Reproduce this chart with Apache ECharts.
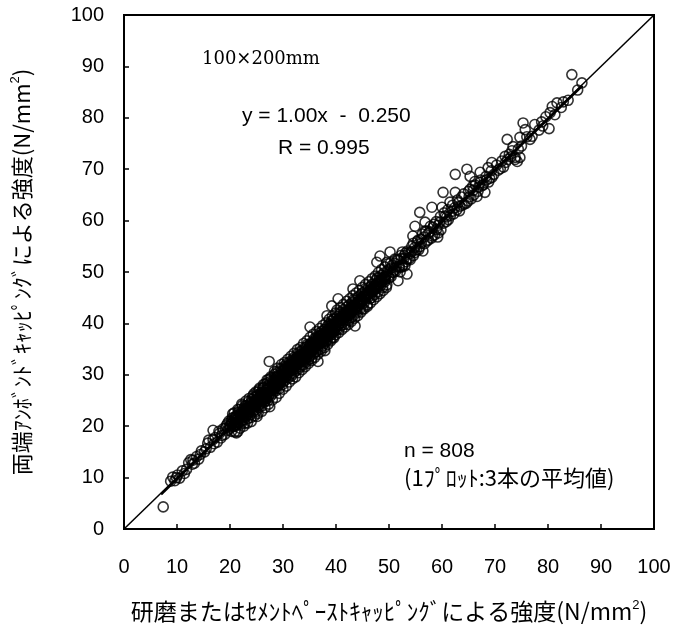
<!DOCTYPE html>
<html>
<head>
<meta charset="utf-8">
<script src="https://cdn.jsdelivr.net/npm/echarts/dist/echarts.min.js"></script>
<style>
html,body{margin:0;padding:0;background:#fff;}
#chart{width:674px;height:628px;}
</style>
</head>
<body>
<div id="chart"></div>
<script>
// ---- data ----
const xTicks = [0,10,20,30,40,50,60,70,80,90,100];
const yTicks = [0,10,20,30,40,50,60,70,80,90,100];
const fitSlope = 1.00;
const fitIntercept = -0.250;
const fitRangeX = [7, 86.5];
const equalLineX = [0, 100];

const pointsLow = [
[7.4,4.3],[8.8,9.3],[9.2,10.1],[9.6,9.4],[10.1,10.5],[10.5,9.9],[11.0,11.3],[11.4,10.8],[12.2,12.9],[12.6,13.5],
[13.0,13.4],[13.3,12.8],[13.7,14.1],[14.1,13.6],[14.6,15.2],[15.2,15.0],[15.8,16.7],[16.3,15.9],[16.8,17.4],[16.8,19.2],
[17.2,17.8],[17.6,16.9],[18.0,18.6],[18.3,17.7],[18.7,19.5],[19.0,18.4],[19.3,20.1],[19.6,19.2],[19.8,21.0],[20.0,19.6],
[9.9,10.0],[11.8,11.6],[12.9,12.6],[14.4,14.5],[15.5,15.6],[16.0,17.3],[17.0,16.6],[17.9,19.0],[18.5,18.2],[19.1,19.6],
[19.5,20.5],[19.9,20.0]
];
const points20s = [
[20.1,20.2],[20.3,19.0],[20.4,21.6],[20.6,19.9],[20.8,22.6],[20.9,18.9],[21.0,21.5],[21.2,20.7],[21.3,22.1],[21.5,19.0],
[21.6,21.8],[21.7,23.2],[21.9,20.8],[22.0,21.9],[22.1,20.4],[22.2,24.3],[22.4,21.6],[22.5,23.1],[22.6,21.2],[22.7,22.6],
[22.8,20.6],[22.9,23.4],[23.0,21.9],[23.1,24.0],[23.2,22.1],[23.3,23.6],[23.4,21.5],[23.5,24.8],[23.6,22.8],[23.7,23.9],
[23.8,22.2],[23.9,24.4],[24.0,21.7],[24.1,25.2],[24.2,23.6],[24.3,24.1],[24.4,22.9],[24.5,26.3],[24.6,23.8],[24.7,25.0],
[24.8,23.2],[24.9,24.6],[25.0,22.9],[25.1,21.9],[25.1,26.0],[25.2,24.7],[25.3,25.9],[25.4,24.0],[25.5,27.1],[25.6,24.3],
[25.7,25.8],[25.8,24.6],[25.9,26.6],[26.0,23.9],[26.1,26.5],[26.2,27.4],[26.3,25.0],[26.4,26.3],[26.5,24.8],[26.6,28.2],
[26.7,25.7],[26.8,27.0],[26.9,25.4],[27.0,27.2],[27.1,24.9],[27.2,27.8],[27.3,29.1],[27.4,32.6],[27.5,23.8],[27.5,26.2],
[27.6,27.6],[27.7,25.9],[27.8,29.4],[27.9,26.8],[28.0,28.3],[28.1,26.4],[28.2,28.9],[28.3,27.0],[28.4,30.1],[28.5,27.5],
[28.6,28.6],[28.7,26.9],[28.8,29.5],[28.9,27.7],[29.0,30.4],[29.1,28.0],[29.2,29.0],[29.3,27.3],[29.4,29.8],[29.5,28.4],
[29.6,31.2],[29.7,28.9],[29.8,29.6],[29.9,28.1],[30.0,30.9],
[20.2,21.0],[20.5,20.6],[20.7,20.1],[21.1,21.9],[21.4,20.3],[21.8,22.4],[22.3,22.0],[22.6,23.5],[23.0,23.0],[23.3,22.4],
[23.7,22.9],[24.0,24.7],[24.3,23.3],[24.6,25.6],[24.9,23.9],[25.2,25.3],[25.5,23.7],[25.8,26.3],[26.1,25.3],[26.4,27.6],
[26.7,24.9],[27.0,26.5],[27.3,26.0],[27.6,28.7],[27.9,27.6],[28.2,27.2],[28.5,29.5],[28.8,28.1],[29.1,29.9],[29.4,28.6],
[29.7,30.6],[29.9,29.5],
[21.0,20.0],[21.6,22.7],[22.2,21.1],[22.8,23.9],[23.4,23.2],[24.0,23.5],[24.6,24.4],[25.2,26.6],[25.8,25.1],[26.4,25.6],
[27.0,28.4],[27.6,26.8],[28.2,28.1],[28.8,30.6],[29.4,29.1],[30.0,28.6],
[20.5,22.4],[20.9,21.8],[21.2,18.7],[21.5,23.3],[21.9,19.6],[22.3,24.0],[22.6,20.0],[23.0,24.9],[23.3,20.6],[23.6,25.4],
[24.0,20.9],[24.3,25.9],[24.6,22.0],[24.9,26.7],[25.3,22.5],[25.6,27.4],[26.0,22.9],[26.3,28.1],[26.6,23.6],[27.0,29.0],
[27.3,24.3],[27.7,29.6],[28.0,25.1],[28.4,30.7],[28.7,25.6],[29.0,31.3],[29.3,26.4],[29.7,32.0],[30.0,27.2],
[20.3,20.5],[20.6,21.2],[20.9,20.3],[21.3,21.4],[21.6,20.9],[21.9,22.0],[22.2,22.5],[22.5,21.9],[22.8,22.8],[23.1,22.6],
[23.4,23.9],[23.7,23.2],[24.1,24.1],[24.4,23.9],[24.7,24.9],[25.0,24.3],[25.3,25.4],[25.6,25.0],[25.9,25.9],[26.2,25.4],
[26.5,26.6],[26.8,26.2],[27.1,27.3],[27.4,26.7],[27.7,27.8],[28.0,27.4],[28.3,28.5],[28.6,27.9],[28.9,29.1],[29.2,28.5],
[29.5,29.6],[29.8,29.0]
];
const points30s = [
[30.1,29.5],[30.2,31.6],[30.3,30.2],[30.4,28.9],[30.5,31.0],[30.6,29.7],[30.7,32.2],[30.8,30.4],[30.9,31.3],[31.0,29.4],
[31.1,31.8],[31.2,30.6],[31.3,32.5],[31.4,30.1],[31.5,31.5],[31.6,29.8],[31.7,32.9],[31.8,31.0],[31.9,32.0],[32.0,30.3],
[32.1,33.4],[32.2,31.6],[32.3,32.4],[32.4,30.7],[32.5,33.0],[32.6,31.9],[32.7,34.1],[32.8,32.2],[32.9,31.1],[33.0,33.6],
[33.1,32.3],[33.2,34.5],[33.3,31.6],[33.4,33.2],[33.5,32.0],[33.6,34.7],[33.7,33.0],[33.8,31.9],[33.9,34.0],[34.0,32.6],
[34.1,35.3],[34.2,33.8],[34.3,32.4],[34.4,34.6],[34.5,33.3],[34.6,35.9],[34.7,34.1],[34.8,32.9],[34.9,35.2],[35.0,33.6],
[35.1,39.3],[35.1,36.0],[35.2,34.4],[35.3,35.5],[35.4,33.2],[35.5,36.4],[35.6,34.9],[35.7,35.8],[35.8,34.0],[35.9,37.0],
[36.0,35.2],[36.1,36.3],[36.2,34.5],[36.3,37.4],[36.4,35.7],[36.5,36.9],[36.6,32.6],[36.6,34.8],[36.7,37.2],[36.8,35.9],
[36.9,38.1],[37.0,36.1],[37.1,35.0],[37.2,37.6],[37.3,36.3],[37.4,38.5],[37.5,35.6],[37.6,37.0],[37.7,36.0],[37.8,38.8],
[37.9,34.7],[37.9,37.3],[38.0,36.4],[38.1,38.3],[38.2,37.1],[38.3,41.5],[38.3,39.4],[38.4,36.8],[38.5,38.7],[38.6,37.5],
[38.7,39.9],[38.8,37.9],[38.9,36.9],[39.0,39.0],[39.1,37.8],[39.2,43.4],[39.2,40.5],[39.3,38.6],[39.4,37.3],[39.5,39.7],
[39.6,38.4],[39.7,40.9],[39.8,39.1],[39.9,37.8],[40.0,40.2],
[30.2,30.9],[30.5,29.6],[30.8,31.7],[31.1,30.5],[31.4,32.1],[31.7,31.4],[32.0,32.6],[32.3,31.1],[32.6,33.3],[32.9,32.7],
[33.2,33.0],[33.5,34.1],[33.8,33.5],[34.1,33.1],[34.4,35.4],[34.7,34.5],[35.0,35.7],[35.3,34.2],[35.6,36.1],[35.9,35.5],
[36.2,36.9],[36.5,35.3],[36.8,37.5],[37.1,36.6],[37.4,37.9],[37.7,37.4],[38.0,38.9],[38.3,37.4],[38.6,38.6],[38.9,39.5],
[39.2,38.2],[39.5,40.8],[39.8,38.8],
[30.4,31.2],[31.0,30.9],[31.6,31.9],[32.2,32.0],[32.8,33.6],[33.4,32.6],[34.0,34.4],[34.6,33.9],[35.2,35.9],[35.8,35.1],
[36.4,36.2],[37.0,37.7],[37.6,36.5],[38.2,38.5],[38.8,38.1],[39.4,39.8],
[30.3,32.4],[30.6,27.8],[30.9,33.0],[31.2,28.6],[31.5,33.6],[31.8,29.2],[32.1,34.2],[32.4,29.6],[32.7,34.9],[33.0,30.4],
[33.3,35.3],[33.6,31.0],[33.9,36.1],[34.2,31.6],[34.5,36.6],[34.8,32.2],[35.1,37.3],[35.4,32.8],[35.7,37.9],[36.0,33.4],
[36.3,38.4],[36.6,34.0],[36.9,39.0],[37.2,34.6],[37.5,39.6],[37.8,35.3],[38.1,40.1],[38.4,35.9],[38.7,40.8],[39.0,36.6],
[39.3,41.4],[39.6,37.2],[39.9,42.0],
[30.1,30.4],[30.4,29.9],[30.7,30.9],[31.0,31.4],[31.3,30.8],[31.6,32.2],[31.9,31.4],[32.2,32.9],[32.5,31.9],[32.8,32.9],
[33.1,33.4],[33.4,33.7],[33.7,33.0],[34.0,34.1],[34.3,33.6],[34.6,34.8],[34.9,34.3],[35.2,35.3],[35.5,34.9],[35.8,36.0],
[36.1,35.5],[36.4,36.7],[36.7,35.9],[37.0,37.0],[37.3,36.8],[37.6,37.9],[37.9,37.2],[38.2,38.3],[38.5,37.8],[38.8,39.0],
[39.1,38.5],[39.4,39.4],[39.7,39.0],[39.9,40.0]
];
const points40s = [
[40.1,38.7],[40.2,41.3],[40.4,44.8],[40.4,39.6],[40.5,40.9],[40.6,38.9],[40.7,41.8],[40.8,40.1],[40.9,42.2],[41.0,39.6],
[41.2,41.6],[41.3,40.2],[41.4,42.7],[41.5,41.0],[41.6,39.8],[41.8,42.1],[41.9,40.7],[42.0,43.2],[42.1,41.3],[42.3,42.4],
[42.4,40.5],[42.5,43.6],[42.6,41.8],[42.8,42.9],[42.9,41.1],[43.0,44.0],[43.2,42.5],[43.2,46.7],[43.3,43.4],[43.4,41.6],
[43.6,39.5],[43.6,44.5],[43.7,42.8],[43.9,43.9],[44.0,42.2],[44.2,45.1],[44.3,43.5],[44.5,48.3],[44.5,44.6],[44.6,42.9],
[44.8,45.7],[44.9,44.1],[45.0,42.8],[45.2,45.3],[45.3,44.0],[45.5,46.3],[45.6,44.7],[45.8,45.4],[45.9,43.6],[46.1,46.9],
[46.2,45.2],[46.4,44.8],[46.5,46.5],[46.7,45.0],[46.8,47.6],[47.0,46.1],[47.1,47.2],[47.3,45.6],[47.5,48.4],[47.7,51.9],
[47.7,46.8],[47.9,47.7],[48.0,46.2],[48.2,49.0],[48.3,53.1],[48.4,47.3],[48.6,48.7],[48.8,47.0],[49.0,49.8],[49.2,48.1],
[49.4,49.2],[49.6,51.9],[49.6,47.5],[49.8,50.3],[50.0,48.8],
[40.3,40.4],[40.9,40.6],[41.5,42.0],[42.1,42.6],[42.7,41.6],[43.3,44.6],[43.9,42.6],[44.5,43.8],[45.1,46.0],[45.7,45.9],
[46.3,46.1],[46.9,46.3],[47.5,47.0],[48.1,48.3],[48.7,49.4],[49.3,48.5],[49.9,49.2],
[40.6,40.8],[41.1,41.2],[41.7,41.5],[42.2,41.9],[42.9,43.4],[43.5,43.0],[44.1,44.2],[44.7,44.3],[45.4,45.0],[46.0,45.6],
[46.6,47.2],[47.2,46.6],[47.8,48.9],[48.5,48.0],[49.1,48.9],
[40.2,42.6],[40.5,38.2],[40.8,43.1],[41.1,38.8],[41.4,43.7],[41.7,39.3],[42.0,44.3],[42.3,39.8],[42.6,44.8],[42.9,40.4],
[43.2,45.4],[43.5,41.0],[43.8,45.9],[44.1,41.5],[44.4,46.4],[44.7,42.2],[45.0,47.0],[45.3,42.8],[45.6,47.6],[45.9,43.3],
[46.2,48.1],[46.5,44.0],[46.8,48.7],[47.1,44.6],[47.4,49.2],[47.7,45.2],[48.0,49.9],[48.3,45.8],[48.6,50.5],[48.9,46.4],
[49.2,51.0],[49.5,47.0],[49.8,51.6],
[40.2,39.8],[40.5,40.4],[40.8,41.0],[41.1,40.6],[41.4,41.4],[41.7,41.0],[42.0,42.0],[42.3,41.7],[42.6,42.6],[42.9,42.3],
[43.2,43.1],[43.5,43.6],[43.8,43.2],[44.1,44.0],[44.4,43.9],[44.7,44.9],[45.0,44.5],[45.3,45.3],[45.6,45.1],[45.9,45.9],
[46.2,45.7],[46.5,46.6],[46.8,46.2],[47.1,47.0],[47.4,46.8],[47.7,47.8],[48.0,47.5],[48.3,48.2],[48.6,47.9],[48.9,48.8],
[49.2,48.6],[49.5,49.5]
];
const points50s = [
[50.2,53.9],[50.2,50.6],[50.4,49.1],[50.6,51.3],[50.8,49.9],[51.1,52.5],[51.1,50.4],[51.4,51.0],[51.7,48.3],[51.7,52.3],
[52.0,50.9],[52.1,50.0],[52.3,52.6],[52.5,53.9],[52.6,51.3],[52.9,53.2],[53.0,51.2],[53.2,52.0],[53.4,49.6],[53.5,54.1],
[53.8,52.6],[54.0,53.6],[54.3,55.0],[54.5,57.0],[54.6,53.2],[54.9,58.9],[54.9,54.8],[55.2,54.3],[55.5,56.2],[55.8,61.6],
[55.8,54.9],[56.1,55.6],[56.4,54.1],[56.6,56.8],[56.8,58.0],[56.8,59.7],[57.1,56.0],[57.4,57.5],[57.7,57.8],[58.0,56.6],
[58.1,62.6],[58.3,58.7],[58.6,57.2],[59.0,58.3],[59.2,56.8],[59.3,59.1],[59.6,59.7],[59.8,58.2],
[50.3,51.8],[50.7,50.0],[51.0,51.7],[51.3,50.2],[51.6,52.4],[51.9,51.1],[52.2,53.2],[52.5,51.0],[52.8,52.6],[53.1,53.7],
[53.4,52.5],[53.7,53.8],[54.0,52.4],[54.3,54.0],[54.6,55.6],[54.9,53.8],[55.3,55.9],[55.6,54.3],[56.0,56.4],[56.3,57.4],
[56.7,55.5],[57.0,57.9],[57.4,56.2],[57.8,58.9],[58.2,57.0],[58.5,59.3],[58.9,59.8],[59.3,57.6],[59.7,60.8]
];
const points60s = [
[60.0,62.6],[60.2,65.5],[60.3,59.5],[60.6,60.9],[60.9,60.7],[61.2,60.2],[61.5,63.6],[61.9,61.8],[62.2,61.3],[62.5,65.5],
[62.5,69.0],[62.8,62.1],[63.1,63.5],[63.4,62.8],[63.8,63.0],[64.2,63.2],[64.7,70.0],[64.9,63.8],[65.1,64.6],[65.3,66.1],
[65.3,68.6],[65.8,66.7],[66.0,65.0],[66.2,67.6],[66.6,64.7],[66.9,66.5],[67.2,69.4],[67.2,67.4],[67.6,66.8],[68.1,65.5],
[68.4,67.9],[68.7,70.3],[69.0,68.2],[69.4,71.3],[69.4,68.4],[69.8,69.0],
[60.4,61.5],[60.8,59.8],[61.1,62.1],[61.6,61.0],[62.0,63.0],[62.4,62.5],[62.9,64.0],[63.3,61.9],[63.7,64.6],[64.1,65.2],
[64.6,63.4],[65.0,65.7],[65.5,64.2],[65.9,65.9],[66.3,66.9],[66.8,65.7],[67.3,67.9],[67.8,67.0],[68.3,68.6],[68.8,67.5],
[69.3,69.7]
];
const pointsHigh = [
[70.3,70.8],[71.0,70.1],[71.9,72.5],[72.3,75.8],[72.4,71.9],[73.0,72.4],[73.4,74.4],[73.8,72.3],[73.8,71.9],[74.2,71.5],
[74.7,72.3],[74.7,76.2],[75.3,79.0],[75.7,77.7],[76.6,75.8],[77.5,78.7],[78.3,77.6],[79.0,78.4],[80.2,77.9],[80.4,81.0],
[80.8,82.2],[81.7,82.9],[82.5,82.0],[84.5,88.4],[86.4,86.8],
[70.6,69.8],[71.3,71.6],[71.6,70.4],[72.0,71.3],[72.7,72.9],[73.2,73.6],[74.4,73.9],[75.0,74.5],[76.0,76.3],[77.0,76.4],
[78.8,79.2],[79.6,80.2],[81.3,80.6],[82.9,83.1],[83.8,83.4],[85.6,85.4]
];

const allPoints = [].concat(pointsLow, points20s, points30s, points40s, points50s, points60s, pointsHigh);
const fitLine = fitRangeX.map(x => [x, fitSlope * x + fitIntercept]);
const equalLine = equalLineX.map(x => [x, x]);

const NUM = '"Liberation Sans", Arial, sans-serif';
const JP = '"Noto Sans CJK JP", "Liberation Sans", sans-serif';

const chart = echarts.init(document.getElementById('chart'), null, {renderer: 'canvas'});
chart.setOption({
  animation: false,
  backgroundColor: '#fff',
  grid: {left: 124, right: 20, top: 15, bottom: 97, show: true, borderColor: '#000', borderWidth: 2, backgroundColor: 'transparent'},
  xAxis: {
    type: 'value', min: 0, max: 100, interval: 10,
    axisLine: {show: true, onZero: false, lineStyle: {color: '#000', width: 2}},
    axisTick: {show: true, inside: true, length: 5, lineStyle: {color: '#000', width: 1.5}},
    splitLine: {show: false},
    axisLabel: {color: '#000', fontFamily: NUM, fontSize: 20, margin: 28,
      formatter: v => (xTicks.indexOf(v) >= 0 ? String(v) : '')},
    name: '{a|研磨またはｾﾒﾝﾄﾍﾟｰｽﾄｷｬｯﾋﾟﾝｸﾞによる強度(N/mm}{s|2}{a|)}',
    nameLocation: 'middle', nameGap: 70,
    nameTextStyle: {rich: {
      a: {fontFamily: JP, fontSize: 23, color: '#000'},
      s: {fontFamily: NUM, fontSize: 13, color: '#000', verticalAlign: 'top', padding: [0,0,12,0]}
    }}
  },
  yAxis: {
    type: 'value', min: 0, max: 100, interval: 10,
    axisLine: {show: true, onZero: false, lineStyle: {color: '#000', width: 2}},
    axisTick: {show: true, inside: true, length: 5, lineStyle: {color: '#000', width: 1.5}},
    splitLine: {show: false},
    axisLabel: {color: '#000', fontFamily: NUM, fontSize: 20, margin: 20,
      formatter: v => (yTicks.indexOf(v) >= 0 ? String(v) : '')},
    name: '{a|両端ｱﾝﾎﾞﾝﾄﾞｷｬｯﾋﾟﾝｸﾞによる強度(N/mm}{s|2}{a|)}',
    nameLocation: 'middle', nameGap: 90, nameRotate: 90,
    nameTextStyle: {rich: {
      a: {fontFamily: JP, fontSize: 22, color: '#000'},
      s: {fontFamily: NUM, fontSize: 13, color: '#000', verticalAlign: 'top', padding: [0,0,12,0]}
    }}
  },
  series: [
    {
      type: 'scatter', data: allPoints, symbol: 'circle', symbolSize: 10,
      itemStyle: {color: 'rgba(255,255,255,0)', borderColor: '#000', borderWidth: 1.6},
      z: 2
    },
    {
      type: 'line', data: equalLine, symbol: 'none',
      lineStyle: {color: '#000', width: 1.5}, z: 3
    },
    {
      type: 'line', data: fitLine, symbol: 'none',
      lineStyle: {color: '#000', width: 2.5}, z: 4
    }
  ],
  graphic: [
    {type: 'text', left: 202, top: 50, style: {text: '100×200mm', font: '18px "DejaVu Serif", "Liberation Serif", serif', fill: '#000'}},
    {type: 'text', left: 242, top: 106, style: {text: 'y = 1.00x  -  0.250', font: '21px "Liberation Sans", Arial, sans-serif', fill: '#000'}},
    {type: 'text', left: 278, top: 138, style: {text: 'R = 0.995', font: '21px "Liberation Sans", Arial, sans-serif', fill: '#000'}},
    {type: 'text', left: 404, top: 441, style: {text: 'n = 808', font: '21px "Liberation Sans", Arial, sans-serif', fill: '#000'}},
    {type: 'text', left: 404, top: 467, style: {text: '(1ﾌﾟﾛｯﾄ:3本の平均値)', font: '22px "Noto Sans CJK JP", "Liberation Sans", sans-serif', fill: '#000'}}
  ]
});
</script>
</body>
</html>
